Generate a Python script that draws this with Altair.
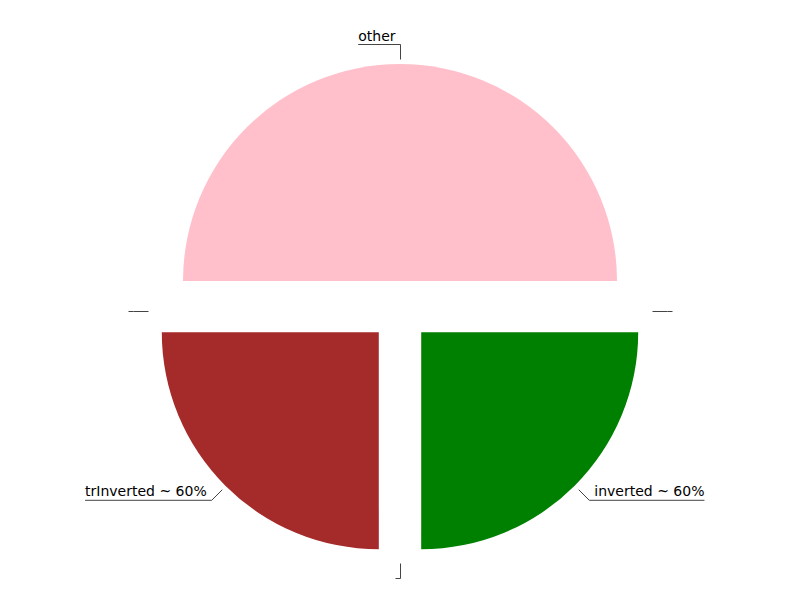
import math
import pandas as pd
import altair as alt

# ---- data ----
names = ["zeroLeft", "other", "zeroRight", "inverted", "zeroBottom", "trInverted"]
values = [0, 2, 0, 1, 0, 1]
labels = ["", "other", "", "inverted ~ 60%", "", "trInverted ~ 60%"]
slice_colors = {"other": "#ffc0cb", "inverted": "#008000", "trInverted": "#a52a2a"}

# ---- style / geometry ----
W, H = 784, 584
CX, CY = 392.5, 303.5
R = 217
EXPLODE = 30
GAP = 5
LEN1 = 15
LEN2 = 5
START = -math.pi / 2
FONT = "DejaVu Sans"
FS = 14

# DejaVu Sans advance widths (units of 1/2048 em) for label width estimates
ADV = {" ": 651, "a": 1255, "d": 1300, "e": 1260, "h": 1298, "I": 604, "i": 569,
       "n": 1298, "o": 1253, "r": 842, "t": 803, "v": 1212, "~": 1716,
       "6": 1303, "0": 1303, "%": 1946}


def text_width(s):
    return sum(ADV.get(c, 1250) for c in s) * FS / 2048


total = sum(values)
arc_rows, seg_rows, txt_rows = [], [], []
acc = 0.0
for n, v, lab in zip(names, values, labels):
    t0 = START + 2 * math.pi * acc / total
    acc += v
    t1 = START + 2 * math.pi * acc / total
    m = (t0 + t1) / 2
    s, c = math.sin(m), math.cos(m)
    if v > 0:
        arc_rows.append({"name": n, "t0": t0, "t1": t1,
                         "cx": CX - 0.5 + EXPLODE * s, "cy": CY - 0.5 - EXPLODE * c})
    r0 = R + EXPLODE + GAP
    p0 = (CX + r0 * s, CY - r0 * c)
    p1 = (CX + (r0 + LEN1) * s, CY - (r0 + LEN1) * c)
    right = s > 1e-9
    d = 1 if right else -1
    p2 = (p1[0] + d * (LEN2 + text_width(lab)), p1[1])
    seg_rows.append({"x": p0[0], "y": p0[1], "x2": p1[0], "y2": p1[1]})
    seg_rows.append({"x": p1[0], "y": p1[1], "x2": p2[0], "y2": p2[1]})
    if lab:
        txt_rows.append({"label": lab, "x": p1[0] + d * LEN2, "y": p1[1],
                         "side": "right" if right else "left"})

arcs_df = pd.DataFrame(arc_rows)
segs_df = pd.DataFrame(seg_rows)
txt_df = pd.DataFrame(txt_rows)

arcs = alt.Chart(arcs_df).mark_arc(radius=R).encode(
    theta=alt.Theta("t0:Q", scale=None),
    theta2="t1:Q",
    x=alt.X("cx:Q", scale=None),
    y=alt.Y("cy:Q", scale=None),
    color=alt.Color("name:N",
                    scale=alt.Scale(domain=list(slice_colors.keys()),
                                    range=list(slice_colors.values())),
                    legend=None),
)

lines = alt.Chart(segs_df).mark_rule(color="#444444", strokeWidth=1).encode(
    x=alt.X("x:Q", scale=None), y=alt.Y("y:Q", scale=None),
    x2="x2:Q", y2="y2:Q",
)

txt_right = alt.Chart(txt_df[txt_df.side == "right"]).mark_text(
    align="left", baseline="alphabetic", dy=-4, font=FONT, fontSize=FS, color="#000000"
).encode(x=alt.X("x:Q", scale=None), y=alt.Y("y:Q", scale=None), text="label:N")

txt_left = alt.Chart(txt_df[txt_df.side == "left"]).mark_text(
    align="right", baseline="alphabetic", dy=-4, font=FONT, fontSize=FS, color="#000000"
).encode(x=alt.X("x:Q", scale=None), y=alt.Y("y:Q", scale=None), text="label:N")

chart = alt.layer(arcs, lines, txt_right, txt_left).properties(
    width=W, height=H, padding=0, autosize=alt.AutoSizeParams(type="none"),
    background="white",
).configure_view(stroke=None)

chart.save("out.html", embed_options={"renderer": "svg", "actions": False})
